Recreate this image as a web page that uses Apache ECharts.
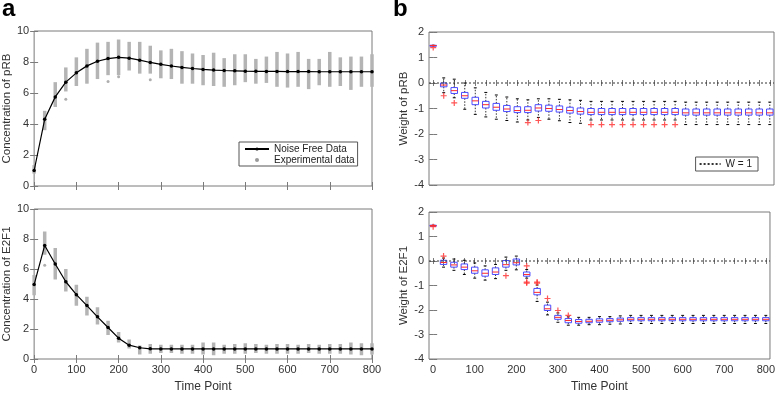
<!DOCTYPE html>
<html>
<head>
<meta charset="utf-8">
<script src="https://cdn.jsdelivr.net/npm/echarts@6/dist/echarts.min.js"></script>
<style>
html, body { margin: 0; padding: 0; background: #fff; }
#chart { width: 778px; height: 394px; }
</style>
</head>
<body>
<div id="chart"></div>
<script>
// time points (x) shared by every panel
const timePoints = [0, 25, 50, 75, 100, 125, 150, 175, 200, 225, 250, 275, 300, 325, 350, 375, 400,
	425, 450, 475, 500, 525, 550, 575, 600, 625, 650, 675, 700, 725, 750, 775, 800]
const xLabels = [0, 100, 200, 300, 400, 500, 600, 700, 800]

// panel a, top: pRB
const pRBNoiseFree = [1.0, 4.3, 5.75, 6.7, 7.3, 7.75, 8.05, 8.22, 8.3, 8.25, 8.12, 7.97, 7.85, 7.74, 7.65, 7.58, 7.52,
	7.48, 7.45, 7.43, 7.41, 7.4, 7.39, 7.39, 7.38, 7.38, 7.38, 7.37, 7.37, 7.37, 7.37, 7.37, 7.37]
const pRBExpLow = [0.8, 3.6, 5.1, 6.1, 6.45, 6.6, 6.9, 7.15, 7.15, 7.45, 7.25, 7.25, 6.95, 6.9, 6.6, 6.6, 6.5,
	6.45, 6.4, 6.5, 6.7, 6.6, 6.65, 6.4, 6.35, 6.4, 6.25, 6.5, 6.4, 6.45, 6.2, 6.4, 6.4]
const pRBExpHigh = [1.35, 4.85, 6.7, 7.65, 8.3, 8.85, 9.25, 9.3, 9.45, 9.3, 9.3, 9.05, 8.75, 8.85, 8.7, 8.55, 8.45,
	8.6, 8.25, 8.5, 8.5, 8.2, 8.35, 8.65, 8.55, 8.65, 8.2, 8.2, 8.65, 8.3, 8.35, 8.35, 8.5]
const pRBExpStray = [[75, 5.6], [175, 6.75], [200, 7.05], [275, 6.85]]

// panel a, bottom: E2F1
const e2f1NoiseFree = [4.96, 7.57, 6.33, 5.15, 4.29, 3.56, 2.81, 2.1, 1.39, 0.92, 0.75, 0.68, 0.67, 0.67, 0.67, 0.67, 0.67,
	0.67, 0.67, 0.67, 0.67, 0.67, 0.67, 0.67, 0.67, 0.67, 0.67, 0.67, 0.67, 0.67, 0.67, 0.67, 0.67]
const e2f1ExpLow = [4.25, 6.95, 5.3, 4.5, 3.55, 2.9, 2.3, 1.6, 1.1, 0.7, 0.3, 0.35, 0.4, 0.4, 0.35, 0.35, 0.3,
	0.25, 0.35, 0.35, 0.35, 0.4, 0.35, 0.35, 0.35, 0.35, 0.4, 0.35, 0.35, 0.35, 0.3, 0.25, 0.3]
const e2f1ExpHigh = [5.6, 8.5, 7.4, 6.0, 4.95, 4.15, 3.45, 2.55, 1.8, 1.3, 0.9, 1.0, 0.95, 0.95, 0.95, 0.95, 1.1,
	1.1, 0.95, 1.0, 1.05, 1.0, 0.95, 1.0, 1.0, 0.95, 1.0, 0.95, 1.0, 1.0, 1.1, 1.05, 1.05]
const e2f1ExpStray = [[25, 6.25]]

// panel b: boxes as [min, q1, median, q3, max]
const pRBWeightBoxes = [
	[1.46, 1.46, 1.47, 1.48, 1.48], [-0.38, -0.15, -0.08, 0.0, 0.2], [-0.58, -0.41, -0.3, -0.18, 0.15],
	[-1.03, -0.6, -0.5, -0.37, 0.0], [-1.23, -0.85, -0.7, -0.56, -0.19], [-1.33, -0.98, -0.85, -0.72, -0.37],
	[-1.42, -1.07, -0.95, -0.8, -0.47], [-1.47, -1.12, -1.02, -0.88, -0.55], [-1.53, -1.16, -1.08, -0.93, -0.62],
	[-1.45, -1.16, -1.07, -0.93, -0.66], [-1.35, -1.1, -0.98, -0.85, -0.62], [-1.42, -1.11, -1.0, -0.87, -0.62],
	[-1.48, -1.14, -1.04, -0.9, -0.64], [-1.55, -1.18, -1.08, -0.95, -0.66], [-1.58, -1.22, -1.12, -0.98, -0.68],
	[-1.45, -1.24, -1.15, -1.0, -0.72], [-1.45, -1.24, -1.15, -1.0, -0.72], [-1.45, -1.24, -1.15, -1.0, -0.72],
	[-1.45, -1.24, -1.15, -1.0, -0.72], [-1.45, -1.24, -1.15, -1.0, -0.72], [-1.45, -1.24, -1.15, -1.0, -0.72],
	[-1.45, -1.24, -1.15, -1.0, -0.72], [-1.45, -1.24, -1.15, -1.0, -0.72], [-1.45, -1.24, -1.15, -1.0, -0.72],
	[-1.63, -1.26, -1.17, -1.02, -0.75], [-1.63, -1.26, -1.17, -1.02, -0.75], [-1.63, -1.26, -1.17, -1.02, -0.75],
	[-1.63, -1.26, -1.17, -1.02, -0.75], [-1.63, -1.26, -1.17, -1.02, -0.75], [-1.63, -1.26, -1.17, -1.02, -0.75],
	[-1.63, -1.26, -1.17, -1.02, -0.75], [-1.63, -1.26, -1.17, -1.02, -0.75], [-1.63, -1.26, -1.17, -1.02, -0.75]
]
const pRBWeightOutliers = [[0, 1.39], [25, -0.5], [50, -0.78], [225, -1.55], [250, -1.47],
	[375, -1.63], [400, -1.63], [425, -1.63], [450, -1.63], [475, -1.63], [500, -1.63], [525, -1.63], [550, -1.63], [575, -1.63]]

const e2f1WeightBoxes = [
	[1.44, 1.44, 1.45, 1.46, 1.46], [-0.25, -0.14, -0.06, 0.03, 0.12], [-0.38, -0.25, -0.16, -0.05, 0.08],
	[-0.55, -0.35, -0.25, -0.12, 0.03], [-0.7, -0.5, -0.4, -0.25, -0.08], [-0.78, -0.62, -0.5, -0.36, -0.2],
	[-0.72, -0.55, -0.45, -0.28, -0.14], [-0.38, -0.25, -0.15, 0.02, 0.16], [-0.36, -0.16, -0.07, 0.08, 0.2],
	[-0.7, -0.62, -0.55, -0.45, -0.35], [-1.65, -1.38, -1.28, -1.12, -0.98], [-2.2, -2.02, -1.95, -1.8, -1.68],
	[-2.5, -2.38, -2.3, -2.22, -2.12], [-2.62, -2.52, -2.43, -2.35, -2.28], [-2.62, -2.54, -2.47, -2.39, -2.3],
	[-2.6, -2.52, -2.46, -2.38, -2.3], [-2.6, -2.5, -2.44, -2.36, -2.27], [-2.58, -2.48, -2.42, -2.35, -2.27],
	[-2.57, -2.46, -2.4, -2.33, -2.24], [-2.55, -2.44, -2.38, -2.31, -2.22], [-2.55, -2.44, -2.38, -2.31, -2.22],
	[-2.55, -2.44, -2.38, -2.31, -2.22], [-2.55, -2.44, -2.38, -2.31, -2.22], [-2.55, -2.44, -2.38, -2.31, -2.22],
	[-2.55, -2.44, -2.38, -2.31, -2.22], [-2.55, -2.44, -2.38, -2.31, -2.22], [-2.55, -2.44, -2.38, -2.31, -2.22],
	[-2.55, -2.44, -2.38, -2.31, -2.22], [-2.55, -2.44, -2.38, -2.31, -2.22], [-2.55, -2.44, -2.38, -2.31, -2.22],
	[-2.55, -2.44, -2.38, -2.31, -2.22], [-2.55, -2.44, -2.38, -2.31, -2.22], [-2.55, -2.44, -2.38, -2.31, -2.22]
]
const e2f1WeightOutliers = [[0, 1.4], [25, 0.2], [175, -0.6], [225, -0.2], [225, -0.86], [225, -0.9],
	[250, -0.86], [250, -0.9], [275, -1.53], [300, -2.02], [325, -2.22]]

const refLineX = [-10, 810]
const refLineY = 0

const FONT = 'Liberation Sans'
const frame = '#7a7a7a'
const plusPath = 'path://M4,0H6V4H10V6H6V10H4V6H0V4H4Z'

const chart = echarts.init(document.getElementById('chart'))

function xAxisPair(gridIndex, range, showLabels, right) {
	const base = {
		gridIndex,
		type: 'value',
		min: range[0],
		max: range[1],
		axisLine: { show: false },
		splitLine: { show: false },
		axisTick: { show: true, inside: true, length: 3, lineStyle: { color: frame } },
		axisLabel: { show: showLabels, color: '#333', fontSize: 11, fontFamily: FONT, margin: 5 }
	}
	if (right) {
		base.axisTick.customValues = timePoints
		base.axisLabel.customValues = xLabels
	} else {
		base.interval = 100
		base.axisTick.length = 4
	}
	const bottom = Object.assign({}, base, { position: 'bottom' })
	if (showLabels) {
		bottom.name = 'Time Point'
		bottom.nameLocation = 'middle'
		bottom.nameGap = 22
		bottom.nameTextStyle = { color: '#333', fontSize: 12, fontFamily: FONT }
	}
	const top = Object.assign({}, base, { position: 'top', axisLabel: { show: false } })
	return [bottom, top]
}

function yAxisPair(gridIndex, range, step, name, gap) {
	const base = {
		gridIndex,
		type: 'value',
		min: range[0],
		max: range[1],
		interval: step,
		axisLine: { show: false },
		splitLine: { show: false },
		axisTick: { show: true, inside: true, length: 4, lineStyle: { color: frame } },
		axisLabel: { color: '#333', fontSize: 11, fontFamily: FONT, margin: 5 }
	}
	const left = Object.assign({}, base, {
		position: 'left',
		name,
		nameLocation: 'middle',
		nameGap: gap,
		nameTextStyle: { color: '#333', fontSize: 11.5, fontFamily: FONT }
	})
	const rightAx = Object.assign({}, base, { position: 'right', axisLabel: { show: false } })
	return [left, rightAx]
}

function renderStrip(params, api) {
	const x = api.value(0)
	const lo = api.coord([x, api.value(1)])
	const hi = api.coord([x, api.value(2)])
	return {
		type: 'rect',
		shape: { x: lo[0] - 1.75, y: hi[1], width: 3.5, height: lo[1] - hi[1] },
		style: { fill: '#b4b4b4' }
	}
}

function renderBox(params, api) {
	const x = api.value(0)
	const pMin = api.coord([x, api.value(1)])
	const pQ1 = api.coord([x, api.value(2)])
	const pMed = api.coord([x, api.value(3)])
	const pQ3 = api.coord([x, api.value(4)])
	const pMax = api.coord([x, api.value(5)])
	const w = api.size([25, 0])[0] * 0.62
	const cx = pMed[0]
	const cap = w * 0.45
	const dot = { stroke: '#000', lineWidth: 0.8, lineDash: [1.5, 1.5] }
	return {
		type: 'group',
		children: [
			{ type: 'line', shape: { x1: cx, y1: pQ3[1], x2: cx, y2: pMax[1] }, style: dot },
			{ type: 'line', shape: { x1: cx, y1: pQ1[1], x2: cx, y2: pMin[1] }, style: dot },
			{ type: 'line', shape: { x1: cx - cap / 2, y1: pMax[1], x2: cx + cap / 2, y2: pMax[1] }, style: { stroke: '#000', lineWidth: 1 } },
			{ type: 'line', shape: { x1: cx - cap / 2, y1: pMin[1], x2: cx + cap / 2, y2: pMin[1] }, style: { stroke: '#000', lineWidth: 1 } },
			{ type: 'rect', shape: { x: cx - w / 2, y: pQ3[1], width: w, height: Math.max(pQ1[1] - pQ3[1], 1) },
				style: { fill: 'none', stroke: '#4a4aff', lineWidth: 1 } },
			{ type: 'line', shape: { x1: cx - w / 2, y1: pMed[1], x2: cx + w / 2, y2: pMed[1] }, style: { stroke: '#ff2a2a', lineWidth: 1 } }
		]
	}
}

const zip = (a, b) => a.map((v, i) => [timePoints[i], v, b ? b[i] : undefined].filter(d => d !== undefined))
const boxData = boxes => boxes.map((b, i) => [timePoints[i]].concat(b))

const option = {
	animation: false,
	backgroundColor: '#fff',
	graphic: [
		{ type: 'text', left: 2, top: -3, style: { text: 'a', font: 'bold 24px "Liberation Sans"', fill: '#000' } },
		{ type: 'text', left: 393, top: -3, style: { text: 'b', font: 'bold 24px "Liberation Sans"', fill: '#000' } }
	],
	grid: [
		{ left: 30, top: 31, width: 342, height: 155, show: true, borderColor: frame, borderWidth: 1 },
		{ left: 30, top: 209, width: 342, height: 155, show: true, borderColor: frame, borderWidth: 1 },
		{ left: 429, top: 32, width: 345, height: 153, show: true, borderColor: frame, borderWidth: 1 },
		{ left: 429, top: 212, width: 345, height: 151, show: true, borderColor: frame, borderWidth: 1 }
	],
	legend: [
		{
			left: 239, top: 142, orient: 'vertical',
			padding: [2, 3, 1, 5], itemGap: 1, itemWidth: 24, itemHeight: 4,
			borderColor: '#555', borderWidth: 1, backgroundColor: '#fff',
			textStyle: { color: '#222', fontSize: 10, fontFamily: FONT },
			data: [
				{ name: 'Noise Free Data' },
				{ name: 'Experimental data', icon: 'circle', itemStyle: { color: '#9a9a9a' } }
			]
		},
		{
			right: 20, top: 157, orient: 'vertical',
			padding: [2, 6, 2, 3], itemWidth: 21, itemHeight: 4,
			borderColor: '#555', borderWidth: 1, backgroundColor: '#fff',
			itemStyle: { opacity: 0 },
			textStyle: { color: '#222', fontSize: 10, fontFamily: FONT },
			data: ['W = 1']
		}
	],
	xAxis: [].concat(
		xAxisPair(0, [0, 800], false, false),
		xAxisPair(1, [0, 800], true, false),
		xAxisPair(2, refLineX, false, true),
		xAxisPair(3, refLineX, true, true)
	),
	yAxis: [].concat(
		yAxisPair(0, [0, 10], 2, 'Concentration of pRB', 20),
		yAxisPair(1, [0, 10], 2, 'Concentration of E2F1', 20),
		yAxisPair(2, [-4, 2], 1, 'Weight of pRB', 18),
		yAxisPair(3, [-4, 2], 1, 'Weight of E2F1', 18)
	),
	series: [
		{ type: 'custom', name: 'Experimental data', xAxisIndex: 0, yAxisIndex: 0, renderItem: renderStrip,
			encode: { x: 0, y: [1, 2] }, data: zip(pRBExpLow, pRBExpHigh) },
		{ type: 'scatter', name: 'Experimental data', xAxisIndex: 0, yAxisIndex: 0, symbolSize: 3,
			itemStyle: { color: '#9a9a9a' }, data: pRBExpStray },
		{ type: 'line', name: 'Noise Free Data', xAxisIndex: 0, yAxisIndex: 0, symbol: 'circle', symbolSize: 3.5,
			itemStyle: { color: '#000' }, lineStyle: { color: '#000', width: 1.2 }, data: zip(pRBNoiseFree) },

		{ type: 'custom', xAxisIndex: 2, yAxisIndex: 2, renderItem: renderStrip,
			encode: { x: 0, y: [1, 2] }, data: zip(e2f1ExpLow, e2f1ExpHigh) },
		{ type: 'scatter', xAxisIndex: 2, yAxisIndex: 2, symbolSize: 3,
			itemStyle: { color: '#9a9a9a' }, data: e2f1ExpStray },
		{ type: 'line', xAxisIndex: 2, yAxisIndex: 2, symbol: 'circle', symbolSize: 3.5,
			itemStyle: { color: '#000' }, lineStyle: { color: '#000', width: 1.2 }, data: zip(e2f1NoiseFree) },

		{ type: 'line', name: 'W = 1', xAxisIndex: 4, yAxisIndex: 4, symbol: 'none',
			lineStyle: { color: '#333', width: 1, type: [2, 2] }, data: refLineX.map(x => [x, refLineY]) },
		{ type: 'custom', xAxisIndex: 4, yAxisIndex: 4, renderItem: renderBox,
			encode: { x: 0, y: [1, 2, 3, 4, 5] }, data: boxData(pRBWeightBoxes) },
		{ type: 'scatter', xAxisIndex: 4, yAxisIndex: 4, symbol: plusPath, symbolSize: 6,
			itemStyle: { color: '#ff2a2a' }, data: pRBWeightOutliers },

		{ type: 'line', xAxisIndex: 6, yAxisIndex: 6, symbol: 'none',
			lineStyle: { color: '#333', width: 1, type: [2, 2] }, data: refLineX.map(x => [x, refLineY]) },
		{ type: 'custom', xAxisIndex: 6, yAxisIndex: 6, renderItem: renderBox,
			encode: { x: 0, y: [1, 2, 3, 4, 5] }, data: boxData(e2f1WeightBoxes) },
		{ type: 'scatter', xAxisIndex: 6, yAxisIndex: 6, symbol: plusPath, symbolSize: 6,
			itemStyle: { color: '#ff2a2a' }, data: e2f1WeightOutliers }
	]
}

chart.setOption(option)
</script>
</body>
</html>
